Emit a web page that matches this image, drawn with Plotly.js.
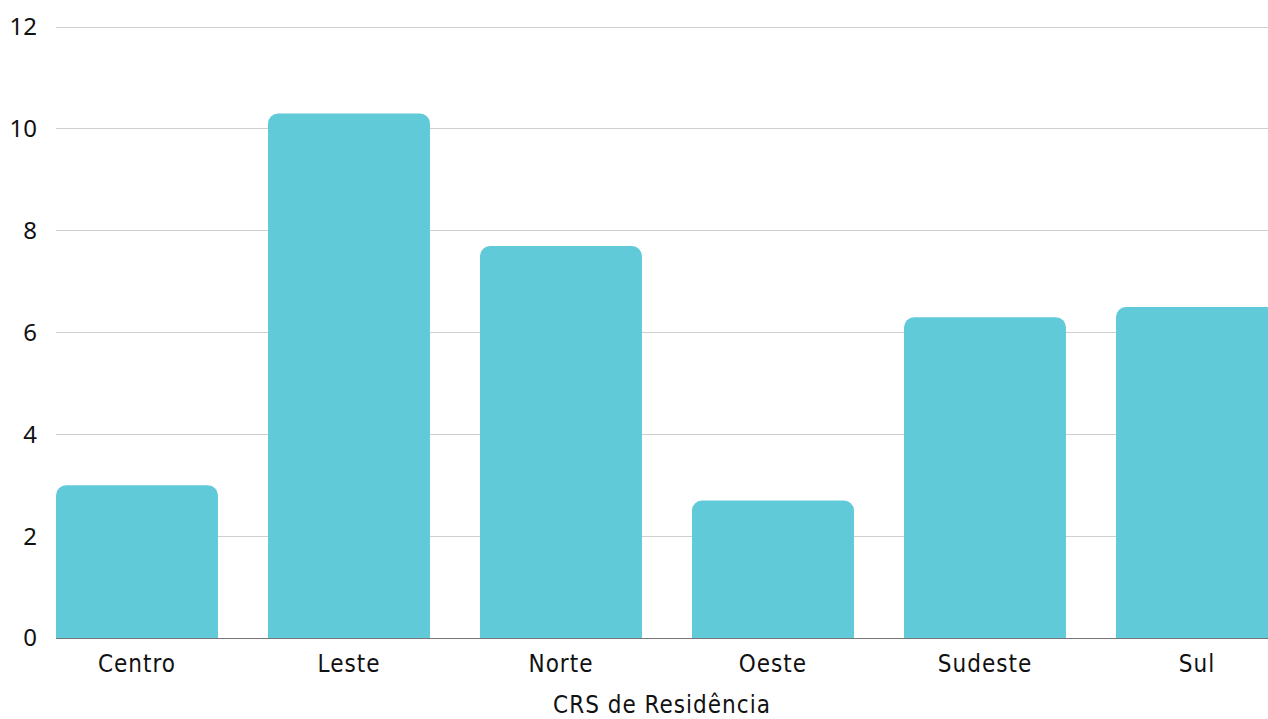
<!DOCTYPE html>
<html><head><meta charset="utf-8">
<script src="https://cdn.plot.ly/plotly-3.0.1.min.js"></script>
<style>html,body{margin:0;padding:0;background:#fff}#c{width:1268px;height:719px}
.xtick text, .g-xtitle text{letter-spacing:1px}</style>
</head><body><div id="c"></div>
<script>
const categories = ["Centro", "Leste", "Norte", "Oeste", "Sudeste", "Sul"];
const values = [3.0, 10.3, 7.7, 2.7, 6.3, 6.5];
const yTicks = [0, 2, 4, 6, 8, 10, 12];
const xTitle = "CRS de Residência";

const xfont = "'DejaVu Sans Condensed', 'DejaVu Sans', sans-serif";
const yfont = "'Noto Sans', 'Open Sans', sans-serif";
Plotly.newPlot("c", [{
  type: "bar", x: categories, y: values,
  marker: {color: "#61cad9", line: {width: 0}},
  hoverinfo: "x+y"
}], {
  width: 1268, height: 719,
  margin: {l: 56, r: 0, t: 26, b: 81},
  paper_bgcolor: "#fff", plot_bgcolor: "#fff",
  bargap: 0.236,
  barcornerradius: 10,
  showlegend: false,
  font: {family: yfont, size: 20, color: "#111"},
  xaxis: {
    range: [-0.382, 5.335],
    showgrid: false, ticks: "", showline: false,
    ticklabelstandoff: 9,
    tickfont: {family: xfont, size: 24, color: "#111"},
    title: {text: xTitle, font: {family: xfont, size: 24, color: "#111"}, standoff: 21}
  },
  yaxis: {
    range: [0, 12.02], tickvals: yTicks, ticktext: yTicks.map(String),
    showgrid: true, gridcolor: "#cfcfcf", gridwidth: 1,
    zeroline: true, zerolinecolor: "#777", zerolinewidth: 1,
    ticks: "", ticklabelstandoff: 18,
    tickfont: {family: yfont, size: 24, color: "#111"}
  }
}, {displayModeBar: false});
</script></body></html>
